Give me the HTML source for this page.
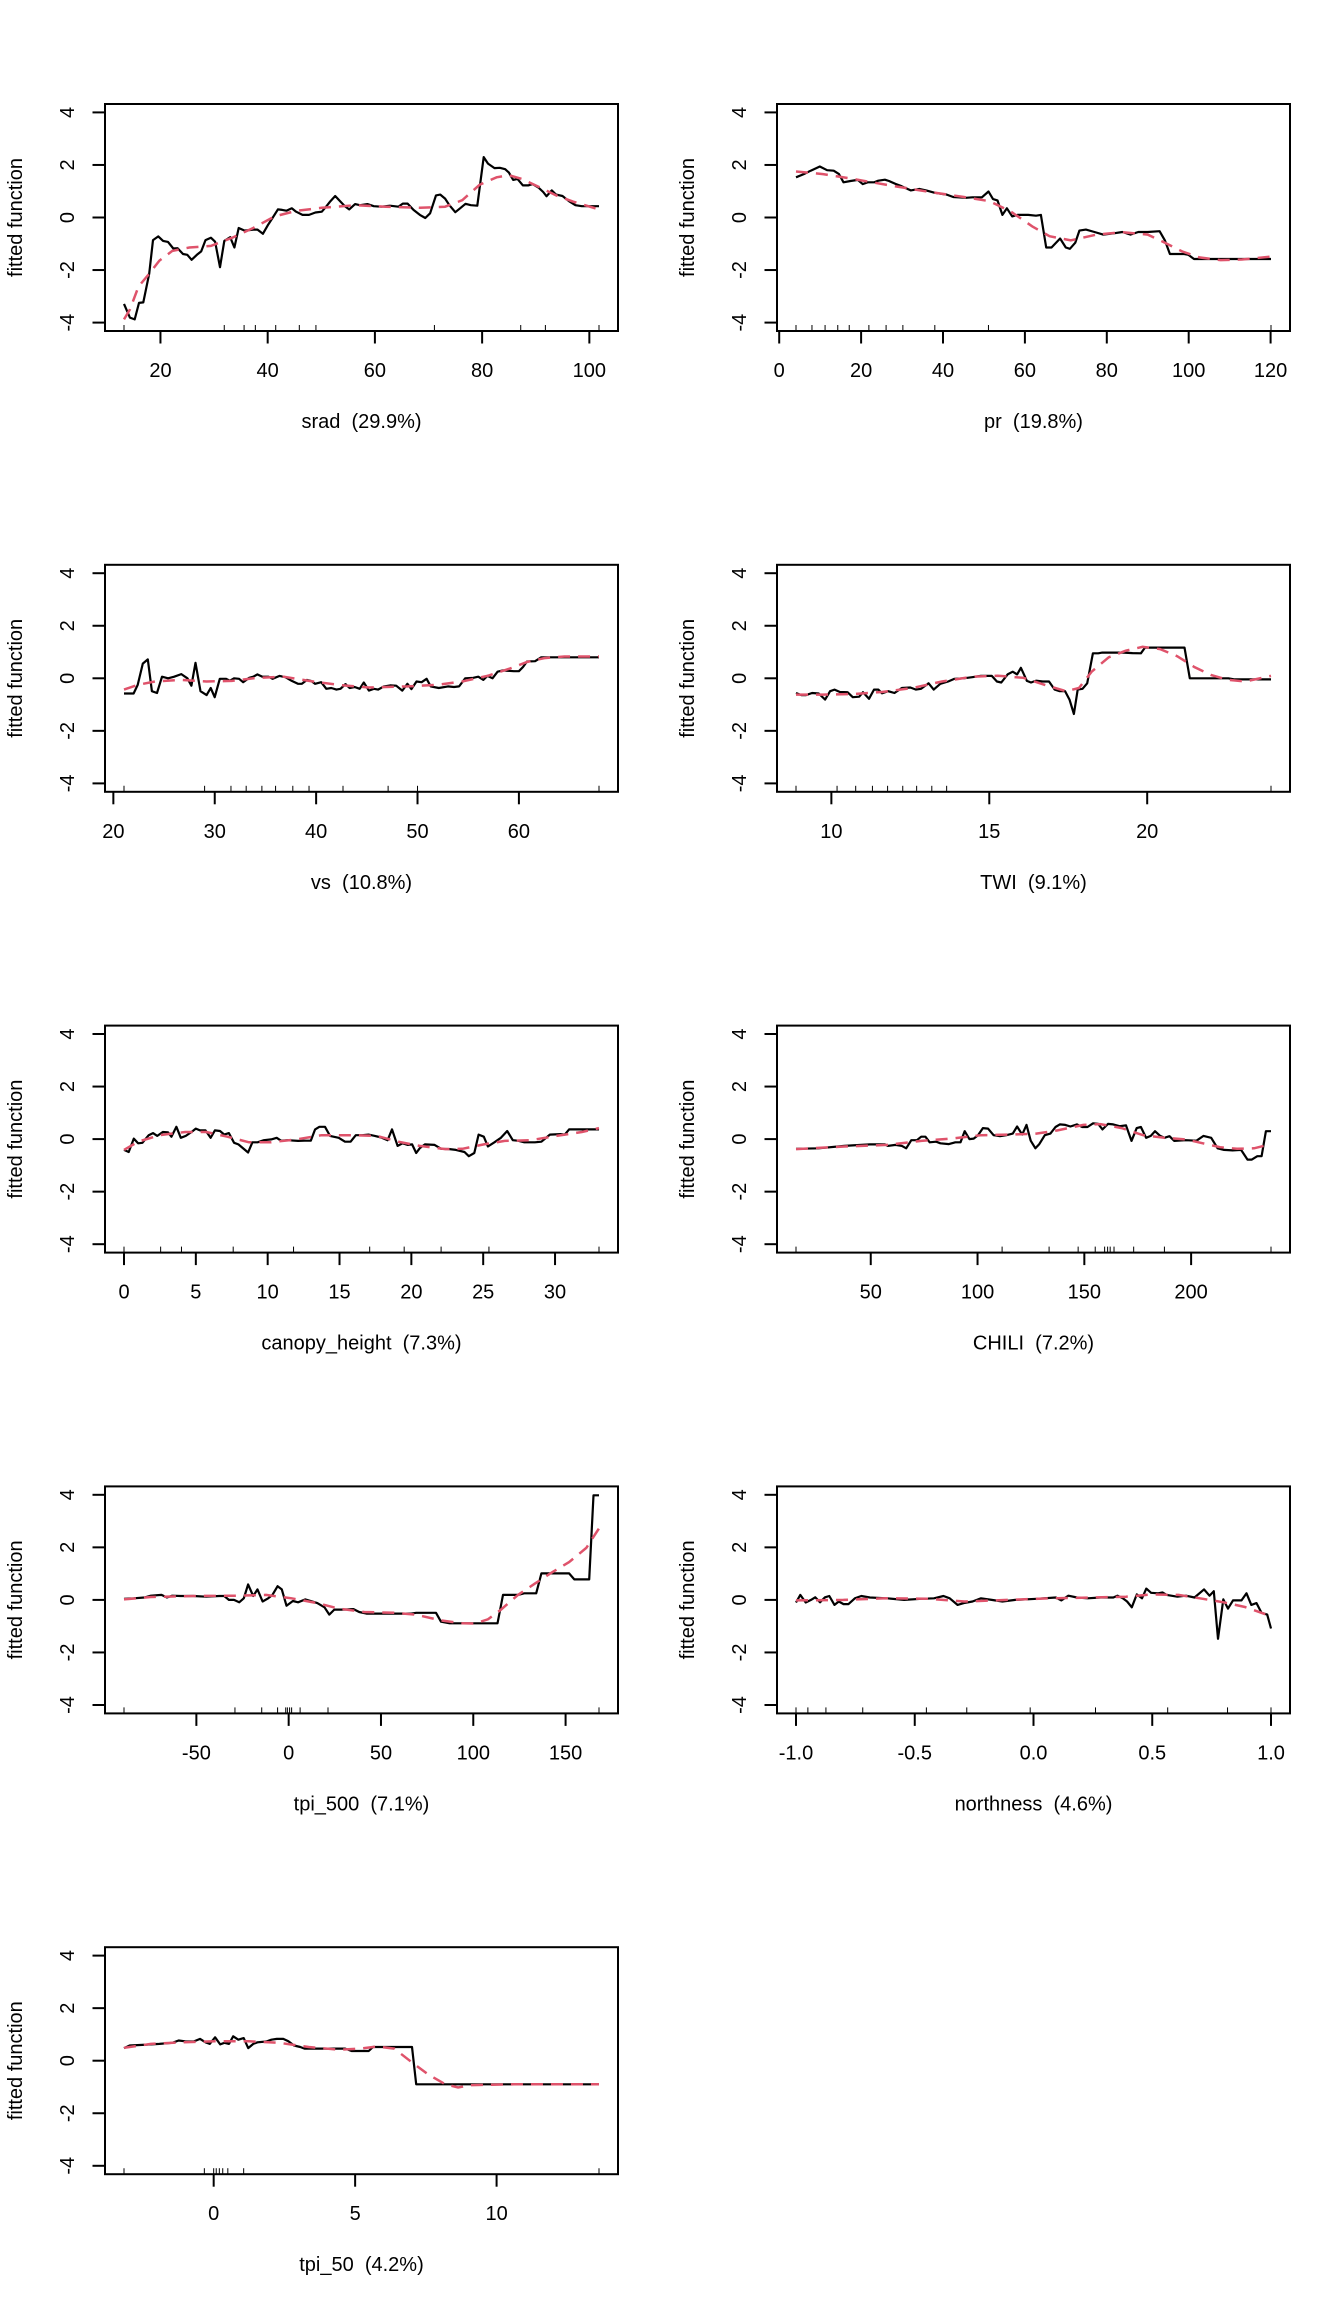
<!DOCTYPE html>
<html><head><meta charset="utf-8"><style>
html,body{margin:0;padding:0;background:#fff;}
svg{display:block;font-family:"Liberation Sans",Arial,sans-serif;}
text{white-space:pre;}
</style></head><body>
<svg id="fig" width="1344" height="2304" viewBox="0 0 1344 2304" xmlns="http://www.w3.org/2000/svg"></svg>
<script>
// ---- srad ----
const sradX=[13.2,14.3,15.2,16.0,16.8,17.9,18.6,19.6,20.5,21.4,22.4,23.2,24.2,25.0,25.8,26.8,27.6,28.4,29.4,30.2,31.1,31.9,33.0,33.8,34.6,35.7,37.3,38.1,39.1,40.1,40.9,41.9,42.7,43.5,44.5,45.3,46.5,47.7,48.9,50.1,50.9,51.7,52.6,53.6,54.4,55.2,56.3,57.2,58.6,59.8,61.2,62.8,64.4,65.2,66.1,67.2,68.4,69.4,70.3,71.4,72.2,73.1,73.9,75.0,75.9,76.9,77.9,79.1,80.3,81.1,82.3,83.3,84.3,85.0,85.8,86.6,87.6,88.6,89.4,90.5,91.4,92.0,93.0,93.8,95.0,96.2,97.4,98.6,101.8];
const sradY=[-3.29,-3.81,-3.88,-3.25,-3.23,-2.14,-0.86,-0.72,-0.89,-0.93,-1.18,-1.17,-1.39,-1.42,-1.61,-1.42,-1.29,-0.86,-0.77,-0.92,-1.89,-0.89,-0.75,-1.14,-0.40,-0.50,-0.46,-0.46,-0.62,-0.27,-0.02,0.31,0.29,0.26,0.35,0.22,0.10,0.10,0.19,0.22,0.41,0.62,0.82,0.60,0.43,0.31,0.51,0.47,0.51,0.43,0.41,0.45,0.41,0.53,0.53,0.29,0.10,-0.02,0.16,0.84,0.87,0.72,0.47,0.20,0.35,0.52,0.47,0.45,2.30,2.05,1.88,1.89,1.84,1.71,1.43,1.47,1.22,1.22,1.27,1.14,0.97,0.81,1.03,0.87,0.82,0.62,0.47,0.43,0.43];
const sradFitX=[13.2,14.3,15.9,17.9,19.8,22.2,25.4,29.4,33.4,37.3,41.3,45.3,50.1,56.4,62,68.4,73.1,76.3,79.5,82.7,85,87.4,90.6,93.8,97,101.8];
const sradFitY=[-3.88,-3.5,-2.63,-2.14,-1.64,-1.27,-1.14,-1.08,-0.77,-0.40,0.04,0.25,0.37,0.47,0.41,0.37,0.41,0.66,1.24,1.53,1.61,1.47,1.16,0.84,0.6,0.31];
const sradRug=[13.2,31.9,35.6,37.7,41.5,45.9,49.0,71.1,87.2,91.8,101.8];
const sradTicks=[20,40,60,80,100];
// ---- pr ----
const prX=[4.1,6.0,7.7,9.9,11.7,13.3,14.6,15.7,17.4,19.2,20.4,21.6,23.2,24.2,25.8,26.8,28.4,29.9,32.1,34.2,35.9,38.0,40.9,42.5,45.6,47.2,49.5,51.1,52.2,53.3,54.5,55.6,56.9,58.2,60.8,62.7,63.9,65.2,66.5,68.6,70.0,71.0,72.3,73.3,74.9,77.0,79.1,81.7,83.8,85.8,87.7,90.0,92.9,94.2,95.4,98.9,99.9,101.3,105.7,120.1];
const prY=[1.53,1.65,1.78,1.94,1.80,1.78,1.65,1.34,1.39,1.43,1.27,1.34,1.34,1.40,1.44,1.39,1.28,1.19,1.03,1.09,1.03,0.94,0.87,0.78,0.75,0.77,0.77,0.99,0.70,0.65,0.10,0.35,0.04,0.10,0.10,0.07,0.10,-1.14,-1.14,-0.80,-1.14,-1.19,-0.96,-0.50,-0.46,-0.55,-0.65,-0.60,-0.55,-0.65,-0.55,-0.55,-0.52,-0.87,-1.39,-1.39,-1.42,-1.58,-1.58,-1.58];
const prFitX=[4.1,10.7,18,26.3,36.8,45.1,51.4,56.6,61.8,66,71.2,77.5,83.8,90,94.2,98.4,102.6,107.8,113,120.1];
const prFitY=[1.75,1.65,1.47,1.24,0.97,0.78,0.62,0.22,-0.34,-0.71,-0.87,-0.65,-0.56,-0.65,-0.96,-1.29,-1.52,-1.62,-1.60,-1.49];
const prRug=[4.1,8.0,11.2,14.3,17.1,21.9,26.1,30.2,38.0,51.1,120.1];
const prTicks=[0,20,40,60,80,100,120];
// ---- vs ----
const vsX=[21.05,22.0,22.4,22.9,23.4,23.8,24.3,24.8,25.4,26.0,26.7,27.3,27.7,28.1,28.6,29.2,29.6,30.0,30.5,31.1,31.5,31.9,32.4,32.8,33.4,33.8,34.2,34.7,35.3,35.7,36.4,36.97,37.6,38.2,38.6,39.1,39.5,39.9,40.5,41.0,41.5,42.0,42.4,42.9,43.3,43.8,44.3,44.7,45.2,45.7,46.1,46.7,47.3,47.9,48.5,49.0,49.4,49.9,50.4,50.9,51.3,52.1,53.0,53.6,54.1,54.7,55.5,56.0,56.5,56.9,57.4,57.9,58.4,59.5,60.0,60.4,60.8,61.6,62.2,63.3,67.9];
const vsY=[-0.58,-0.58,-0.25,0.56,0.72,-0.49,-0.56,0.06,0.00,0.06,0.16,0.00,-0.28,0.59,-0.49,-0.64,-0.37,-0.72,-0.02,-0.02,-0.09,0.00,-0.02,-0.15,0.02,0.06,0.15,0.06,0.06,-0.02,0.09,0.04,-0.10,-0.21,-0.21,-0.06,-0.10,-0.21,-0.15,-0.40,-0.37,-0.43,-0.40,-0.22,-0.37,-0.33,-0.40,-0.16,-0.47,-0.40,-0.43,-0.31,-0.27,-0.28,-0.47,-0.21,-0.41,-0.12,-0.15,-0.02,-0.31,-0.37,-0.31,-0.33,-0.31,0.00,0.02,0.06,-0.06,0.09,0.00,0.25,0.30,0.27,0.27,0.43,0.64,0.65,0.80,0.80,0.80];
const vsFitX=[21.05,22.4,24.1,26.7,29.2,31.7,34.2,36.8,39.3,42.2,45.2,49,51.9,54.4,56.97,59.1,60.8,62.5,64.5,67.9];
const vsFitY=[-0.43,-0.25,-0.12,-0.06,-0.12,-0.10,0.02,0.06,-0.10,-0.25,-0.35,-0.31,-0.25,-0.12,0.10,0.37,0.62,0.77,0.83,0.83];
const vsRug=[21.05,29.0,31.6,33.1,34.65,36.0,37.7,39.3,42.65,47.1,50.0,67.9];
const vsTicks=[20,30,40,50,60];
// ---- TWI ----
const twiX=[8.88,9.05,9.2,9.39,9.6,9.8,9.96,10.1,10.27,10.51,10.68,10.88,11.0,11.19,11.35,11.49,11.6,11.8,12.0,12.23,12.5,12.68,12.84,13.08,13.24,13.45,13.7,13.9,14.19,14.46,14.73,15.08,15.24,15.38,15.58,15.74,15.88,16.0,16.19,16.32,16.49,16.69,16.89,17.07,17.23,17.4,17.54,17.68,17.8,17.95,18.1,18.28,18.45,18.58,19.26,19.53,19.8,19.93,20.41,21.18,21.35,22.57,22.77,23.92];
const twiY=[-0.56,-0.64,-0.64,-0.56,-0.58,-0.81,-0.49,-0.43,-0.52,-0.53,-0.72,-0.70,-0.53,-0.78,-0.43,-0.43,-0.57,-0.49,-0.56,-0.37,-0.35,-0.43,-0.40,-0.19,-0.43,-0.21,-0.12,-0.02,0.00,0.04,0.09,0.09,-0.12,-0.16,0.15,0.25,0.15,0.40,-0.10,-0.16,-0.09,-0.12,-0.12,-0.43,-0.49,-0.49,-0.81,-1.36,-0.43,-0.40,-0.19,0.95,0.95,0.98,0.98,0.96,0.95,1.17,1.17,1.17,0.00,0.00,-0.04,-0.04];
const twiFitX=[8.88,9.73,10.68,11.6,12.57,13.5,14.46,15.27,16.08,16.76,17.43,17.84,18.24,18.78,19.32,19.86,20.41,20.95,21.49,22.03,22.57,23.1,23.92];
const twiFitY=[-0.62,-0.62,-0.60,-0.52,-0.37,-0.12,0.06,0.10,0.02,-0.25,-0.49,-0.37,0.25,0.80,1.05,1.2,1.11,0.84,0.43,0.12,-0.06,-0.12,0.09];
const twiRug=[8.88,10.18,10.77,11.3,11.78,12.26,12.7,13.18,13.65,23.92];
const twiTicks=[10,15,20];
// ---- canopy_height ----
const canX=[0,0.33,0.68,0.98,1.28,1.72,2.02,2.32,2.7,3.06,3.3,3.65,3.95,4.3,4.7,5.0,5.29,5.67,6.03,6.33,6.68,6.98,7.3,7.66,7.96,8.64,8.94,9.3,9.74,10.25,10.63,10.93,11.37,12.12,12.56,13.0,13.3,13.6,13.99,14.34,14.94,15.38,15.77,16.13,16.57,17.02,17.46,17.91,18.35,18.65,19.04,19.39,19.75,20.05,20.34,20.58,20.94,21.62,22.07,22.66,23.1,23.7,24.0,24.38,24.68,25.04,25.33,25.78,26.23,26.67,27.06,27.41,27.86,28.6,29.05,29.64,30.38,30.68,30.98,33.06];
const canY=[-0.41,-0.49,0.02,-0.16,-0.14,0.15,0.23,0.12,0.27,0.26,0.09,0.47,0.05,0.12,0.27,0.40,0.33,0.33,0.05,0.33,0.31,0.17,0.23,-0.14,-0.20,-0.51,-0.12,-0.12,-0.04,-0.01,0.05,-0.06,-0.04,-0.07,-0.06,-0.06,0.37,0.47,0.47,0.12,0.05,-0.10,-0.10,0.15,0.15,0.17,0.12,0.06,-0.04,0.37,-0.26,-0.16,-0.22,-0.20,-0.53,-0.35,-0.20,-0.22,-0.37,-0.38,-0.41,-0.49,-0.65,-0.53,0.17,0.09,-0.28,-0.12,0.05,0.31,-0.04,-0.06,-0.12,-0.12,-0.10,0.17,0.19,0.17,0.37,0.37];
const canFitX=[0,0.98,2.47,4.25,5.73,7.2,8.7,10.2,12,13.75,15.83,17.6,19.1,20.58,22.36,23.55,25.04,26.5,28.3,30.09,31.87,33.06];
const canFitY=[-0.41,-0.10,0.15,0.27,0.27,0.09,-0.12,-0.12,-0.01,0.15,0.15,0.12,-0.10,-0.26,-0.38,-0.37,-0.20,-0.07,-0.04,0.12,0.27,0.42];
const canRug=[0,2.55,4.0,7.6,11.8,17.1,19.5,22.07,25.4,33.06];
const canTicks=[0,5,10,15,20,25,30];
// ---- CHILI ----
const chiX=[15.0,25.6,37.6,49.6,56.6,58.0,61.6,64.6,66.6,69.0,71.6,73.6,75.6,77.6,80.6,82.6,86.6,89.6,92.0,94.0,96.2,98.2,100.2,102.5,104.9,107.5,110.5,113.5,116.5,118.5,120.9,122.9,124.9,127.1,128.9,131.5,134.1,136.5,138.5,141.1,143.5,146.5,149.0,151.5,154.1,156.5,158.5,161.1,163.5,166.5,169.5,172.1,174.5,176.5,178.9,181.1,183.1,185.5,187.5,189.9,192.1,197.5,202.5,205.8,209.4,212.4,215.4,219.4,223.4,226.4,228.4,231.0,233.0,235.0,237.4];
const chiY=[-0.37,-0.35,-0.26,-0.20,-0.20,-0.26,-0.22,-0.26,-0.35,-0.04,-0.04,0.09,0.09,-0.12,-0.10,-0.16,-0.19,-0.12,-0.12,0.30,0.00,0.02,0.15,0.42,0.40,0.15,0.11,0.15,0.21,0.48,0.17,0.54,-0.06,-0.35,-0.19,0.15,0.21,0.46,0.56,0.54,0.48,0.56,0.46,0.46,0.60,0.58,0.37,0.58,0.56,0.49,0.52,-0.07,0.42,0.46,0.05,0.12,0.30,0.12,0.05,0.11,-0.07,-0.04,-0.06,0.12,0.05,-0.35,-0.41,-0.43,-0.41,-0.78,-0.78,-0.65,-0.65,0.30,0.30];
const chiFitX=[15,37.6,57.6,73.6,87.6,101.5,115.5,127.5,137.5,149.5,157.5,167.5,177.5,187.5,197.5,205.5,213.5,221.5,229.5,237.4];
const chiFitY=[-0.38,-0.28,-0.22,-0.07,0.02,0.15,0.17,0.21,0.33,0.54,0.57,0.42,0.15,0.05,-0.01,-0.16,-0.31,-0.37,-0.35,-0.19];
const chiRug=[15,111.5,133.5,147.1,155.1,159.5,160.9,162.1,163.9,173.1,187.5,237.4];
const chiTicks=[50,100,150,200];
// ---- tpi_500 ----
const t500X=[-89.2,-83.9,-78.2,-74.7,-68.9,-65.9,-63.1,-58.5,-51.6,-44.6,-37.7,-34.9,-32.4,-29.6,-26.8,-24.3,-22.0,-19.2,-16.9,-14.1,-11.1,-8.8,-6.0,-3.7,-1.2,2.3,5.1,9.0,12.0,15.5,19.4,22.0,24.7,29.4,35.1,38.2,42.1,47.9,57.1,66.4,69.1,79.8,82.5,87.2,98.7,113.1,116.1,124.2,127.6,134.1,136.9,151.9,154.7,162.8,165.1,168.1];
const t500Y=[0.04,0.06,0.09,0.16,0.19,0.09,0.16,0.15,0.15,0.12,0.15,0.15,0.00,0.00,-0.09,0.06,0.59,0.15,0.40,-0.06,0.06,0.19,0.52,0.40,-0.22,-0.04,-0.09,0.02,-0.04,-0.12,-0.28,-0.56,-0.37,-0.37,-0.35,-0.46,-0.52,-0.52,-0.52,-0.52,-0.49,-0.49,-0.83,-0.89,-0.89,-0.89,0.19,0.19,0.25,0.25,1.01,1.01,0.78,0.78,3.98,3.98];
const t500FitX=[-89.2,-74.7,-51.6,-28.4,-12.3,1.6,15.5,27.1,40.9,57.1,68.7,82.5,94.1,101,108,115,124.2,133.4,142.7,151.9,161.2,168.1];
const t500FitY=[0.02,0.11,0.15,0.16,0.19,0.06,-0.12,-0.33,-0.46,-0.49,-0.56,-0.78,-0.89,-0.90,-0.74,-0.37,0.19,0.62,1.05,1.44,1.98,2.72];
const t500Rug=[-89.2,-29.1,-14.6,-6.0,-1.6,-0.7,0.5,1.6,6.2,21.3,168.1];
const t500Ticks=[-50,0,50,100,150];
// ---- northness ----
const norX=[-1.0,-0.982,-0.959,-0.937,-0.919,-0.899,-0.878,-0.86,-0.838,-0.82,-0.8,-0.779,-0.752,-0.725,-0.689,-0.617,-0.545,-0.473,-0.419,-0.379,-0.353,-0.32,-0.293,-0.257,-0.221,-0.176,-0.131,-0.077,0.013,0.094,0.117,0.147,0.183,0.228,0.282,0.336,0.354,0.376,0.394,0.414,0.435,0.457,0.475,0.495,0.525,0.543,0.561,0.606,0.642,0.678,0.718,0.741,0.759,0.777,0.799,0.819,0.84,0.876,0.897,0.917,0.939,0.96,0.984,1.0];
const norY=[-0.10,0.19,-0.10,0.00,0.10,-0.09,0.10,0.15,-0.19,-0.06,-0.16,-0.16,0.06,0.15,0.09,0.06,0.00,0.04,0.06,0.15,0.06,-0.19,-0.12,-0.06,0.06,0.00,-0.06,0.00,0.04,0.09,-0.02,0.16,0.09,0.06,0.09,0.09,0.16,0.06,-0.06,-0.28,0.21,0.06,0.43,0.27,0.25,0.28,0.19,0.12,0.16,0.09,0.40,0.16,0.33,-1.48,0.02,-0.33,-0.02,-0.02,0.25,-0.19,-0.12,-0.49,-0.56,-1.09];
const norFitX=[-1,-0.8,-0.62,-0.44,-0.29,-0.11,0.07,0.25,0.39,0.5,0.61,0.7,0.8,0.89,1.0];
const norFitY=[-0.02,0,0.06,0.04,-0.06,0,0.06,0.09,0.12,0.21,0.19,0.06,-0.09,-0.27,-0.62];
const norRug=[-1,-0.95,-0.874,-0.719,-0.451,-0.281,-0.014,0.261,0.565,0.817,1.0];
const norTicks=[-1.0,-0.5,0.0,0.5,1.0];
// ---- tpi_50 ----
const t50X=[-3.17,-2.97,-2.52,-1.92,-1.46,-1.24,-1.01,-0.71,-0.48,-0.29,-0.14,0.05,0.23,0.38,0.54,0.69,0.87,1.06,1.22,1.40,1.55,1.86,2.04,2.23,2.46,2.64,2.84,3.06,3.21,3.97,4.65,4.87,5.48,5.63,7.01,7.16,8.34,13.62];
const t50Y=[0.48,0.58,0.60,0.64,0.68,0.77,0.74,0.73,0.83,0.70,0.64,0.89,0.62,0.68,0.64,0.93,0.80,0.86,0.48,0.64,0.70,0.73,0.80,0.83,0.83,0.74,0.58,0.52,0.46,0.46,0.46,0.37,0.37,0.52,0.52,-0.90,-0.90,-0.90];
const t50FitX=[-3.17,-2.22,-1.16,0.05,1.25,2.31,3.36,4.42,5.17,5.78,6.38,6.98,7.59,8.19,8.64,9.09,10.6,13.62];
const t50FitY=[0.49,0.64,0.70,0.74,0.74,0.68,0.52,0.42,0.46,0.54,0.46,-0.04,-0.53,-0.90,-1.02,-0.93,-0.90,-0.90];
const t50Rug=[-3.17,-0.33,0,0.09,0.2,0.32,0.5,1.06,13.62];
const t50Ticks=[0,5,10];

const yTicks=[-4,-2,0,2,4];
const panels=[
 {id:'srad',label:'srad  (29.9%)',bx:sradX,by:sradY,fx:sradFitX,fy:sradFitY,rug:sradRug,ticks:sradTicks,dec:0},
 {id:'pr',label:'pr  (19.8%)',bx:prX,by:prY,fx:prFitX,fy:prFitY,rug:prRug,ticks:prTicks,dec:0},
 {id:'vs',label:'vs  (10.8%)',bx:vsX,by:vsY,fx:vsFitX,fy:vsFitY,rug:vsRug,ticks:vsTicks,dec:0},
 {id:'twi',label:'TWI  (9.1%)',bx:twiX,by:twiY,fx:twiFitX,fy:twiFitY,rug:twiRug,ticks:twiTicks,dec:0},
 {id:'canopy-height',label:'canopy_height  (7.3%)',bx:canX,by:canY,fx:canFitX,fy:canFitY,rug:canRug,ticks:canTicks,dec:0},
 {id:'chili',label:'CHILI  (7.2%)',bx:chiX,by:chiY,fx:chiFitX,fy:chiFitY,rug:chiRug,ticks:chiTicks,dec:0},
 {id:'tpi-500',label:'tpi_500  (7.1%)',bx:t500X,by:t500Y,fx:t500FitX,fy:t500FitY,rug:t500Rug,ticks:t500Ticks,dec:0},
 {id:'northness',label:'northness  (4.6%)',bx:norX,by:norY,fx:norFitX,fy:norFitY,rug:norRug,ticks:norTicks,dec:1},
 {id:'tpi-50',label:'tpi_50  (4.2%)',bx:t50X,by:t50Y,fx:t50FitX,fy:t50FitY,rug:t50Rug,ticks:t50Ticks,dec:0}
];

const NS='http://www.w3.org/2000/svg';
const svg=document.getElementById('fig');
function mk(tag,parent,attrs){const e=document.createElementNS(NS,tag);for(const k in attrs)e.setAttribute(k,attrs[k]);parent.appendChild(e);return e;}

const PW=672, PH=460.8, L=105, R=618, T=104, B=331;
panels.forEach((p,i)=>{
  const ox=(i%2)*PW, oy=Math.floor(i/2)*PH;
  const g=mk('g',svg,{transform:`translate(${ox},${oy})`});
  
  
  const all=p.bx.concat(p.rug);
  const xmin=Math.min(...all), xmax=Math.max(...all), dx=xmax-xmin;
  const u0=xmin-0.04*dx, u1=xmax+0.04*dx;
  const xs=v=>L+(v-u0)/(u1-u0)*(R-L);
  const ys=v=>B-(v+4.32)/8.64*(B-T);
  const box=mk('rect',g,{x:L,y:T,width:R-L,height:B-T,fill:'none',stroke:'#000','stroke-width':2});
  
  
  const ya=mk('g',g,{});
  
  
  mk('line',ya,{x1:L,x2:L,y1:ys(-4),y2:ys(4),stroke:'#000','stroke-width':2});
  yTicks.forEach(t=>{
    mk('line',ya,{x1:L-12.5,x2:L,y1:ys(t),y2:ys(t),stroke:'#000','stroke-width':2});
    const tx=mk('text',ya,{x:0,y:0,transform:`translate(74,${ys(t)}) rotate(-90)`,'text-anchor':'middle','font-size':20,fill:'#000'});
    tx.textContent=String(t);
    
    
  });
  const yl=mk('text',g,{x:0,y:0,transform:`translate(22,${(T+B)/2}) rotate(-90)`,'text-anchor':'middle','font-size':20,fill:'#000'});
  yl.textContent='fitted function';
  
  
  const xa=mk('g',g,{});
  
  
  p.ticks.forEach(t=>{
    mk('line',xa,{x1:xs(t),x2:xs(t),y1:B,y2:B+12.5,stroke:'#000','stroke-width':2});
    const tx=mk('text',xa,{x:xs(t),y:B+46,'text-anchor':'middle','font-size':20,fill:'#000'});
    tx.textContent=p.dec?t.toFixed(p.dec):String(t);
    
    
  });
  const xl=mk('text',g,{x:(L+R)/2,y:B+97,'text-anchor':'middle','font-size':20,fill:'#000'});
  xl.textContent=p.label;
  
  
  const rg=mk('g',g,{});
  
  
  p.rug.forEach(v=>{mk('line',rg,{x1:xs(v),x2:xs(v),y1:B,y2:B-6,stroke:'#000','stroke-width':1});});
  const d1=p.bx.map((v,k)=>(k?'L':'M')+xs(v).toFixed(1)+' '+ys(p.by[k]).toFixed(1)).join(' ');
  const l1=mk('path',g,{d:d1,fill:'none',stroke:'#000','stroke-width':2.2,'stroke-linejoin':'round'});
  
  
  const d2=p.fx.map((v,k)=>(k?'L':'M')+xs(v).toFixed(1)+' '+ys(p.fy[k]).toFixed(1)).join(' ');
  const l2=mk('path',g,{d:d2,fill:'none',stroke:'#DF536B','stroke-width':2.5,'stroke-dasharray':'12 8'});
  
  
});
</script>
</body></html>
